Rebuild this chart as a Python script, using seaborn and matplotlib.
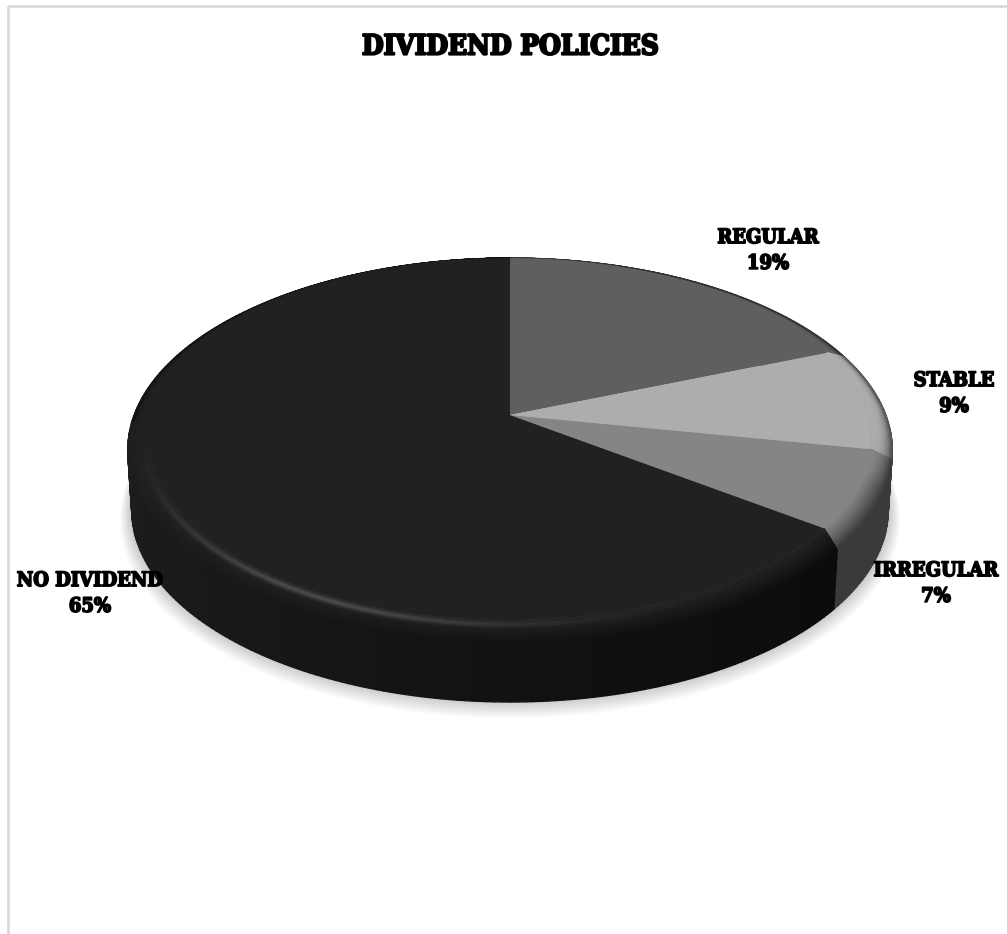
import numpy as np
import matplotlib
matplotlib.use("Agg")
import matplotlib.pyplot as plt
import matplotlib.patheffects as pe
from matplotlib.collections import PolyCollection
from matplotlib.patches import Rectangle
from matplotlib.transforms import Transform
import seaborn as sns

# ---- data ----
title = "DIVIDEND POLICIES"
categories = ["REGULAR", "STABLE", "IRREGULAR", "NO DIVIDEND"]
shares = [19.0, 9.0, 7.0, 65.0]

# ---- style ----
top_colors = ["#5f5f5f", "#adadad", "#858585", "#212121"]
wall_colors = ["#2e2e2e", "#3c3c3c", "#3a3a3a", "#141414"]
label_xy = [(768, 250), (954, 393), (936, 583), (90, 593)]

# perspective parameters of the disc, in pixels
CX, CY, A, B, K = 510.0, 415.0, 188.2, 379.0, 0.1406
TOP_R, RIM_Z, WALL_H = 0.945, 8.0, 60.0


def project(u, v, z=0.0):
    u, v, z = np.asarray(u, float), np.asarray(v, float), np.asarray(z, float)
    w = 1 + K * v
    return CX + B * u / w * (1 - 0.012 * z / 68.0), CY - A * v / w + z


class DiscProjection(Transform):
    input_dims = output_dims = 2
    is_separable = False
    has_inverse = False

    def transform_non_affine(self, values):
        values = np.asarray(values)
        x, y = project(values[:, 0], values[:, 1])
        return np.column_stack([x, y])


def ring(theta_deg, r, z):
    t = np.radians(theta_deg)
    x, y = project(r * np.cos(t), r * np.sin(t), z)
    return np.column_stack([x, y])


def hex2rgb(h):
    return np.array(matplotlib.colors.to_rgb(h))


sns.set_theme(style="white")
plt.rcParams["font.family"] = ["DejaVu Serif", "DejaVu Sans"]
palette = sns.color_palette(top_colors)

fig = plt.figure(figsize=(10.07, 9.34), dpi=100, facecolor="white")
ax = fig.add_axes([0, 0, 1, 1])

wedges, _ = ax.pie(shares, colors=palette, startangle=90, counterclock=False,
                   radius=TOP_R, wedgeprops=dict(linewidth=0, zorder=6))
ax.set_aspect("auto")
ax.set_xlim(0, 1007)
ax.set_ylim(934, 0)
ax.set_frame_on(False)
ax.set_xticks([])
ax.set_yticks([])
proj = DiscProjection() + ax.transData
for w in wedges:
    w.set_transform(proj)
    w.set_clip_on(False)

# the seam between the front slices bends inward across the rounded rim
seam = wedges[-1].theta2


def warp(theta, s):
    theta = np.asarray(theta, float)
    near = np.clip(1 - np.abs(((theta - seam + 180) % 360) - 180) / 12.0, 0, 1)
    return theta - 1.8 * s * near


# chart-area border
ax.add_patch(Rectangle((8, 6), 1200, 1200, fc="none", ec="#d9d9d9", lw=2, zorder=0))

# soft shadow below the disc
n_shadow = 14
circle = np.linspace(0, 360, 361)
for i in range(n_shadow):
    f = 1 - i / n_shadow
    pts = ring(circle, 1.0 + 0.032 * f, RIM_Z + WALL_H + 10 * f - 2)
    ax.fill(pts[:, 0], pts[:, 1], color="black", alpha=0.014, lw=0, zorder=1)

# walls and bevel
wall_polys, wall_cols, bevel_polys, bevel_cols = [], [], [], []
n_bevel = 16
for w, top_c, wall_c in zip(wedges, top_colors, wall_colors):
    top_rgb, wall_rgb = hex2rgb(top_c), hex2rgb(wall_c)
    is_black = top_c == "#212121"
    edges = np.arange(w.theta1, w.theta2 + 1.0, 1.0)
    edges[-1] = w.theta2
    for a, b in zip(edges[:-1], edges[1:]):
        mid = (a + b) / 2
        ang = ((mid + 180) % 360) - 180
        shade = wall_rgb.copy()
        if is_black:
            shade = np.interp(ang, [-170, -90, -37], [0.115, 0.070, 0.045]) * np.ones(3)
        wa, wb = warp([a, b], 1.0)
        wall_polys.append(np.vstack([ring(np.array([wa, wb]), 1.0, RIM_Z),
                                     ring(np.array([wb, wa]), 1.0, RIM_Z + WALL_H)]))
        wall_cols.append(shade)
        power = np.interp(ang, [-180, -140, -20, 5, 180], [4, 1.2, 1.2, 5, 6])
        target = 0.45 * top_rgb if ang > -11 else shade
        glow = 0.17 * np.exp(-((ang + 118) / 30) ** 2) if is_black else 0.0
        for j in range(n_bevel):
            s0, s1 = j / n_bevel, (j + 1) / n_bevel
            sm = (s0 + s1) / 2
            mix = sm ** power
            col = top_rgb * (1 - mix) + target * mix
            col = np.clip(col + glow * np.exp(-((sm - 0.22) / 0.13) ** 2), 0, 1)
            r0, r1 = TOP_R + (1 - TOP_R) * s0, TOP_R + (1 - TOP_R) * s1
            a0, b0 = warp([a, b], s0)
            a1, b1 = warp([a, b], s1)
            bevel_polys.append(np.vstack([ring(np.array([a0, b0]), r0, RIM_Z * s0),
                                          ring(np.array([b1, a1]), r1, RIM_Z * s1)]))
            bevel_cols.append(col)

ax.add_collection(PolyCollection(wall_polys, facecolors=wall_cols, edgecolors=wall_cols,
                                 linewidths=1.0, zorder=3))
ax.add_collection(PolyCollection(bevel_polys, facecolors=bevel_cols, edgecolors=bevel_cols,
                                 linewidths=0.6, zorder=4))

# text
ax.text(510, 47, title, ha="center", va="center", fontsize=20, color="black",
        fontweight="bold", stretch="condensed",
        path_effects=[pe.withStroke(linewidth=1.6, foreground="black")], zorder=10)
for (x, y), name, val in zip(label_xy, categories, shares):
    ax.text(x, y, f"{name}\n{val:.0f}%", ha="center", va="center", fontsize=14.4,
            color="black", fontweight="bold", stretch="condensed", linespacing=1.36,
            path_effects=[pe.withStroke(linewidth=1.2, foreground="black")], zorder=10)

sns.despine(ax=ax, left=True, bottom=True)
fig.savefig("out.png", dpi=100, facecolor="white")
